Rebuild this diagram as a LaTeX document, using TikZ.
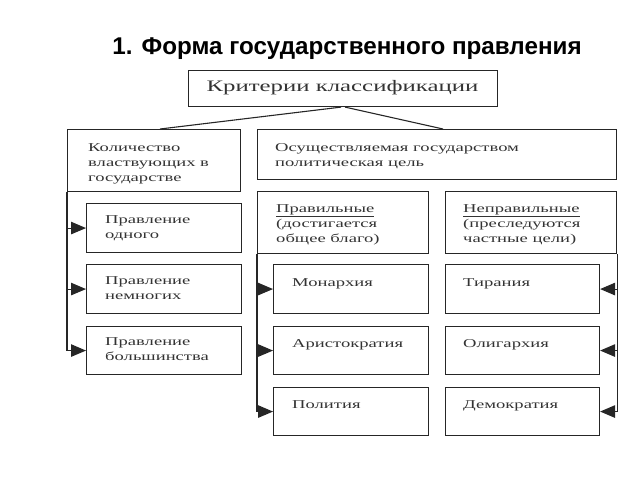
\documentclass[tikz,border=0pt]{standalone}
\usepackage{fontspec}
\setmainfont{Liberation Serif}[FakeStretch=1.55]
\newfontfamily\titlefont{Liberation Sans}
\usetikzlibrary{arrows.meta,calc}
\tikzset{
  box/.style={draw=black!85, line width=1.1pt, rectangle, inner sep=0pt, anchor=north west},
  txt/.style={anchor=base west, inner sep=0pt, text=black!80, font=\fontsize{12}{15}\selectfont},
  conn/.style={draw=black!85, line width=1.1pt},
  arr/.style={conn, -{Triangle[length=15pt,width=12.5pt]}},
}
\newcommand{\mkbox}[5]{% name, x1, y1, x2, y2
  \node[box, minimum width={(#4-#2)*1pt}, minimum height={(#5-#3)*1pt}] (#1) at (#2,#3) {};}
\newcommand{\twol}[2]{\vtop{\hbox{#1}\hbox{#2}}}
\newcommand{\threel}[3]{\vtop{\hbox{#1}\hbox{#2}\hbox{#3}}}
\begin{document}
\begin{tikzpicture}[x=1pt,y=-1pt]
\useasboundingbox (0,0) rectangle (640,480);
% title
\node[anchor=base, inner sep=0pt, font=\titlefont\bfseries\fontsize{24.2}{28}\selectfont] (title) at (347,54) {1. Форма государственного правления};
% boxes
\mkbox{crit}{188}{70}{497}{106}
\node[anchor=center, inner sep=0pt, text=black!80, font=\fontsize{16}{18}\selectfont] (critt) at (342.5,88) {Критерии классификации};
\mkbox{qty}{67}{129}{240}{191}
\mkbox{goal}{257}{129}{616}{179}
\mkbox{prav}{257}{191}{428}{253}
\mkbox{neprav}{445}{191}{616}{253}
\mkbox{one}{86}{203}{241}{252}
\mkbox{few}{86}{264}{241}{313}
\mkbox{many}{86}{326}{241}{374}
\mkbox{mon}{273}{264}{428}{313}
\mkbox{ari}{273}{326}{428}{374}
\mkbox{pol}{273}{387}{428}{435}
\mkbox{tir}{445}{264}{599}{313}
\mkbox{oli}{445}{326}{599}{374}
\mkbox{dem}{445}{387}{599}{435}
% texts
\node[txt] (qtyt) at (88,151) {\threel{Количество}{властвующих в}{государстве}};
\node[txt] (goalt) at (275,151) {\twol{Осуществляемая государством}{политическая цель}};
\node[txt] (pravt) at (276,212) {\threel{\underline{Правильные}}{(достигается}{общее благо)}};
\node[txt] (nepravt) at (463,212) {\threel{\underline{Неправильные}}{(преследуются}{частные цели)}};
\node[txt] (onet) at (105,223) {\twol{Правление}{одного}};
\node[txt] (fewt) at (105,284) {\twol{Правление}{немногих}};
\node[txt] (manyt) at (105,345) {\twol{Правление}{большинства}};
\node[txt] (mont) at (292,286) {Монархия};
\node[txt] (arit) at (292,347) {Аристократия};
\node[txt] (polt) at (292,408) {Полития};
\node[txt] (tirt) at (463,286) {Тирания};
\node[txt] (olit) at (463,347) {Олигархия};
\node[txt] (demt) at (463,408) {Демократия};
% connectors from top
\draw[conn] ($(crit.south)+(-2,0)$) -- ($(qty.north)+(6,0)$);
\draw[conn] ($(crit.south)+(2,0)$) -- ($(goal.north)+(6,0)$);
% left column
\draw[conn] (qty.south west) -- (qty.south west |- many.west);
\draw[arr] (qty.south west |- one.west) -- (one.west);
\draw[arr] (qty.south west |- few.west) -- (few.west);
\draw[arr] (qty.south west |- many.west) -- (many.west);
% middle column
\draw[conn] (prav.south west) -- (prav.south west |- pol.west);
\draw[arr] (prav.south west |- mon.west) -- (mon.west);
\draw[arr] (prav.south west |- ari.west) -- (ari.west);
\draw[arr] (prav.south west |- pol.west) -- (pol.west);
% right column
\draw[conn] (neprav.south east) -- (neprav.south east |- dem.east);
\draw[arr] (neprav.south east |- tir.east) -- (tir.east);
\draw[arr] (neprav.south east |- oli.east) -- (oli.east);
\draw[arr] (neprav.south east |- dem.east) -- (dem.east);
\end{tikzpicture}
\end{document}
